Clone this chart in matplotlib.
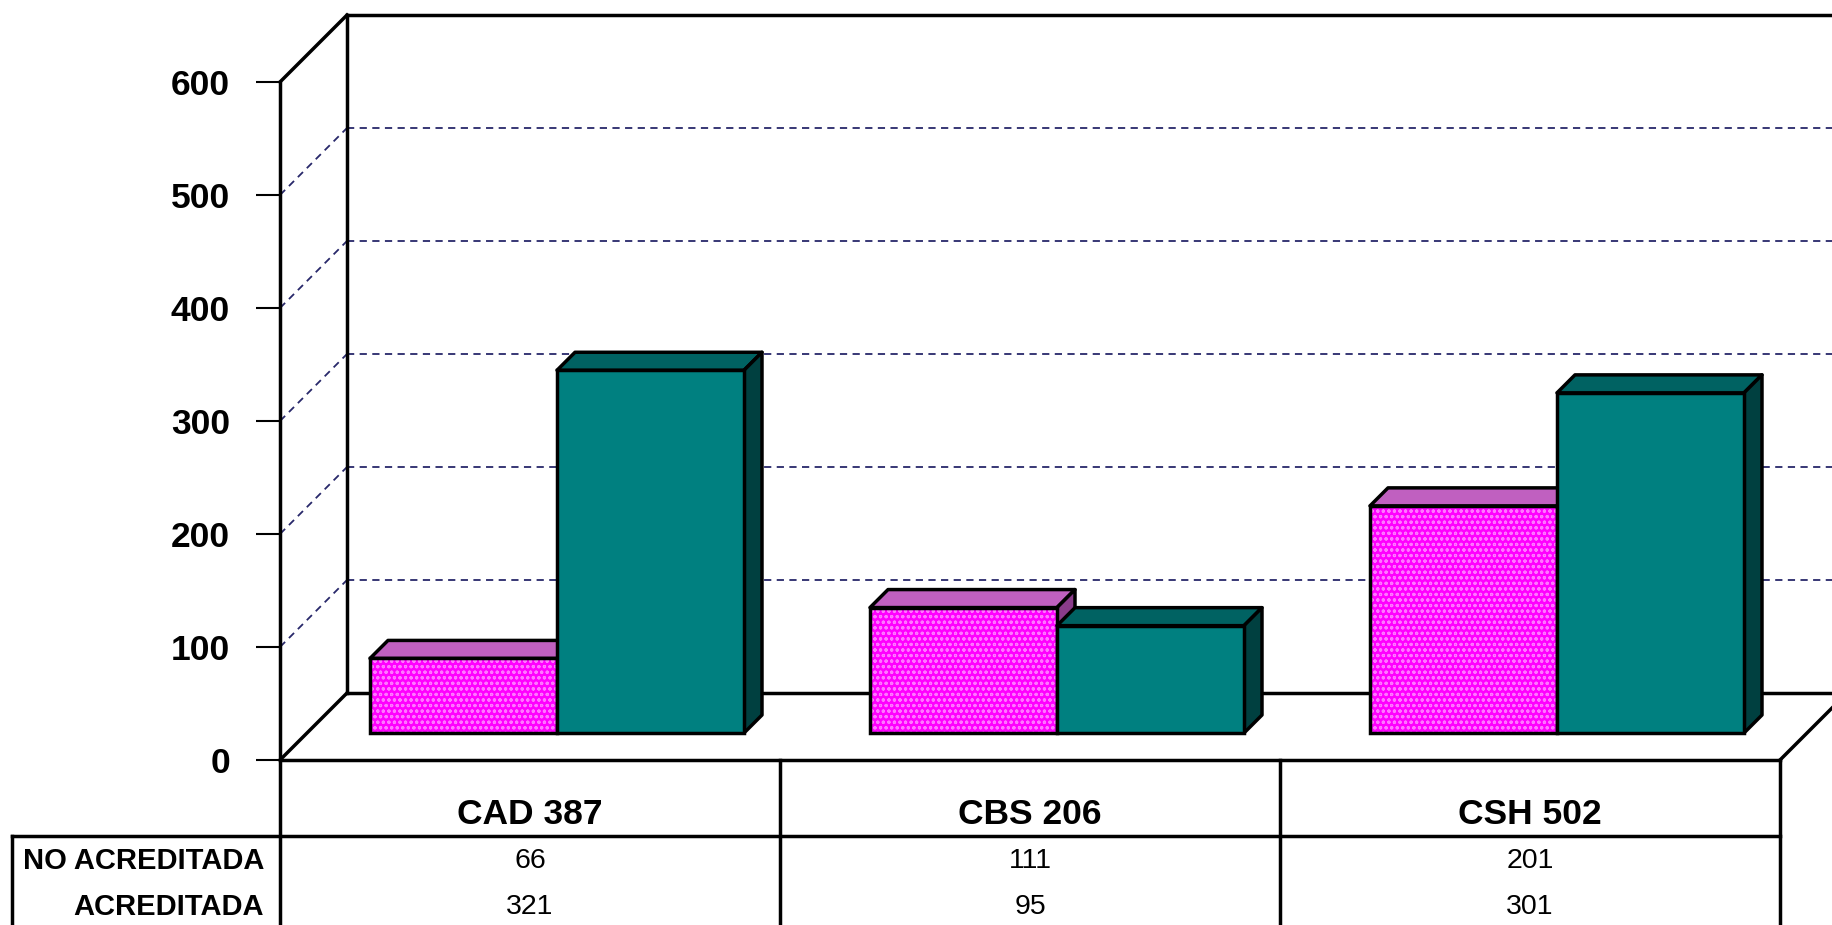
import matplotlib
matplotlib.use("Agg")
import matplotlib.pyplot as plt
from matplotlib.patches import Polygon

plt.rcParams['font.family'] = ['Liberation Sans', 'DejaVu Sans']
plt.rcParams['hatch.linewidth'] = 0.8
plt.rcParams['hatch.color'] = '#ff78ff'

# data
categories = ['CAD 387', 'CBS 206', 'CSH 502']
series_names = ['NO ACREDITADA', 'ACREDITADA']
no_acreditada = [66, 111, 201]
acreditada = [321, 95, 301]
yticks = [0, 100, 200, 300, 400, 500, 600]

# pixel geometry of the pseudo 3d frame
W, H = 1832, 925
PX_X = 500.0          # px per category
PX_Y = 678.0 / 600    # px per unit value
WALL = 67             # wall depth (px)
BOFF = 27             # bar offset into depth (px)
BDEP = 18             # bar depth (px)
LW = 2.5

def dx(px):
    return px / PX_X

def dy(px):
    return px / PX_Y

fig = plt.figure(figsize=(W / 100, H / 100), dpi=100)
ax = fig.add_axes([280 / W, (H - 760) / H, 1500 / W, 678 / H])
ax.set_xlim(-0.5, 2.5)
ax.set_ylim(0, 600)
for s in ax.spines.values():
    s.set_visible(False)
ax.set_xticks([])
ax.set_yticks(yticks)
ax.tick_params(axis='y', length=17, width=1.5, pad=19, labelsize=25.5)
for t in ax.get_yticklabels():
    t.set_fontweight('bold')

line_kw = dict(color='black', lw=LW, clip_on=False, solid_capstyle='projecting')
grid_kw = dict(color='#28286a', lw=1.3, ls=(0, (4, 3)), clip_on=False)

wx, wy = dx(WALL), dy(WALL)
right_edge = (W - 280) / PX_X - 0.5 + 0.05

# gridlines: side wall + back wall
for v in yticks[1:-1]:
    ax.plot([-0.5, -0.5 + wx], [v, v + wy], **grid_kw)
    ax.plot([-0.5 + wx, right_edge], [v + wy, v + wy], **grid_kw)

# frame
ax.plot([-0.5, -0.5], [600, -160], **line_kw)
ax.plot([-0.5, -0.5 + wx], [600, 600 + wy], **line_kw)
ax.plot([-0.5 + wx, -0.5 + wx], [600 + wy, wy], **line_kw)
ax.plot([-0.5 + wx, right_edge], [600 + wy, 600 + wy], **line_kw)
ax.plot([-0.5, -0.5 + wx], [0, wy], **line_kw)
ax.plot([-0.5 + wx, right_edge], [wy, wy], **line_kw)
ax.plot([-0.5, 2.5], [0, 0], **line_kw)
ax.plot([2.5, 2.5 + wx], [0, wy], **line_kw)


def bar3d(x0, x1, val, face, top, side, hatch=None):
    ox, oy = dx(BOFF), dy(BOFF)
    bx, by = dx(BDEP), dy(BDEP)
    a, b = x0 + ox, x1 + ox
    y0, y1 = oy, oy + val
    ax.add_patch(Polygon([(a, y1), (b, y1), (b + bx, y1 + by), (a + bx, y1 + by)],
                         closed=True, fc=top, ec='black', lw=LW, joinstyle='round',
                         clip_on=False, zorder=3))
    ax.add_patch(Polygon([(b, y0), (b + bx, y0 + by), (b + bx, y1 + by), (b, y1)],
                         closed=True, fc=side, ec='black', lw=LW, joinstyle='round',
                         clip_on=False, zorder=3))
    if hatch:
        ax.add_patch(Polygon([(a, y0), (b, y0), (b, y1), (a, y1)], closed=True,
                             fc=face, ec='#ff78ff', lw=0, hatch=hatch,
                             clip_on=False, zorder=3))
        ax.add_patch(Polygon([(a, y0), (b, y0), (b, y1), (a, y1)], closed=True,
                             fill=False, ec='black', lw=LW, clip_on=False, zorder=3))
    else:
        ax.add_patch(Polygon([(a, y0), (b, y0), (b, y1), (a, y1)], closed=True,
                             fc=face, ec='black', lw=LW, clip_on=False, zorder=3))


bw = 0.374
for i in range(len(categories)):
    bar3d(i - bw, i, no_acreditada[i], '#ff00ff', '#c060c0', '#8a3c8a', hatch='ooo')
    bar3d(i, i + bw, acreditada[i], '#008080', '#006262', '#004040')

# data table below
row_line = -dy(76)
left_box = (12 - 280) / PX_X - 0.5
ax.plot([left_box, 2.5], [row_line, row_line], **line_kw)
ax.plot([left_box, left_box], [row_line, -160], **line_kw)
for xv in [0.5, 1.5, 2.5]:
    ax.plot([xv, xv], [0, -160], **line_kw)

for i, c in enumerate(categories):
    ax.text(i, -dy(55), c, ha='center', va='center', fontsize=25.5,
            fontweight='bold', clip_on=False)
    ax.text(i, -dy(101), str(no_acreditada[i]), ha='center', va='center',
            fontsize=20.5, clip_on=False)
    ax.text(i, -dy(147), str(acreditada[i]), ha='center', va='center',
            fontsize=20.5, clip_on=False)

lab_x = (264 - 280) / PX_X - 0.5
ax.text(lab_x, -dy(101), series_names[0], ha='right', va='center', fontsize=21,
        fontweight='bold', clip_on=False)
ax.text(lab_x, -dy(147), series_names[1], ha='right', va='center', fontsize=21,
        fontweight='bold', clip_on=False)

fig.savefig('out.png', dpi=100)
